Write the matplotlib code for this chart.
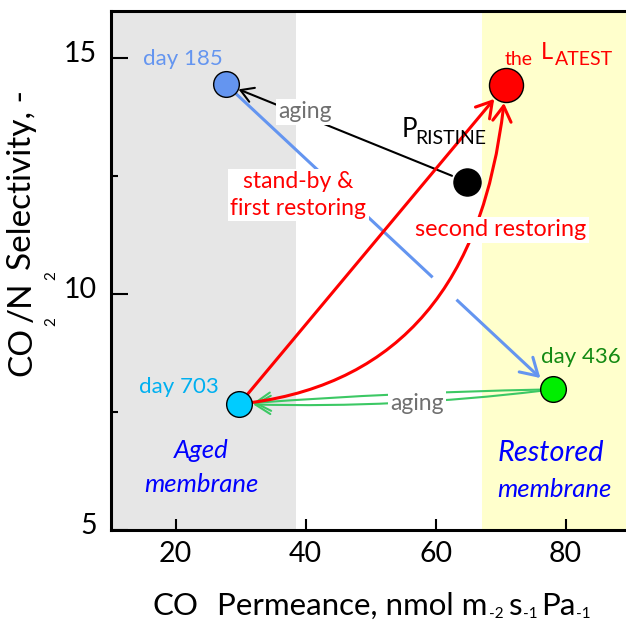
import numpy as np
import matplotlib
matplotlib.use('Agg')
import matplotlib.pyplot as plt
from matplotlib.patches import FancyArrowPatch
from matplotlib.transforms import ScaledTranslation, IdentityTransform

plt.rcParams['font.family'] = ['Lato', 'DejaVu Sans']

# ---------------- data ----------------
states = ['day 185', 'pristine', 'latest', 'day 436', 'day 703']
permeance = [27.7, 64.8, 70.8, 78.0, 29.8]
selectivity = [14.45, 12.38, 14.43, 7.98, 7.67]
marker_colors = ['#6495F0', '#000000', '#FF0000', '#00EE00', '#00CCFF']
aged_zone = [10, 38.5]
restored_zone = [67.1, 89.3]
xticks = [20, 40, 60, 80]
yticks = [5, 10, 15]
yminor = [7.5, 12.5]
# --------------------------------------

W, H = 626, 628
fig = plt.figure(figsize=(W / 100, H / 100), dpi=100)
ax = fig.add_axes([110.7 / W, (H - 530) / H, (W - 110.7) / W, (530 - 11) / H])
ax.set_xlim(10, 89.3)
ax.set_ylim(5, 16)

ax.axvspan(*aged_zone, color='#E6E6E6', zorder=0, lw=0)
ax.axvspan(*restored_zone, color='#FFFFCC', zorder=0, lw=0)

for s in ['left', 'top', 'bottom']:
    ax.spines[s].set_linewidth(2.2)
ax.spines['right'].set_visible(False)

ax.set_xticks(xticks)
ax.set_yticks(yticks)
ax.set_yticks(yminor, minor=True)
ax.tick_params(axis='x', which='major', direction='in', length=8, width=1.5,
               labelsize=20.5, pad=8, top=False)
ax.tick_params(axis='y', which='major', direction='in', length=12, width=1.5,
               labelsize=20.5, pad=10, right=False)
ax.tick_params(axis='y', which='minor', direction='in', length=5, width=1.5, right=False)

# markers
sizes = [18.5, 19.5, 24.5, 18.5, 18.5]
for x, y, c, ms in zip(permeance, selectivity, marker_colors, sizes):
    ax.plot(x, y, 'o', ms=ms, mfc=c, mec='black', mew=1, zorder=5)


def arrow(i, j, color, lw, ms, sA, sB, conn='arc3,rad=0', z=2,
          style='->,head_length=0.5,head_width=0.3'):
    p = FancyArrowPatch((permeance[i], selectivity[i]), (permeance[j], selectivity[j]),
                        arrowstyle=style, mutation_scale=ms, color=color, lw=lw,
                        shrinkA=sA, shrinkB=sB, connectionstyle=conn, zorder=z)
    ax.add_patch(p)
    return p


# pristine -> day 185 (aging)
arrow(1, 0, 'black', 1.5, 18, 11.5, 10)
# day 185 -> day 436
arrow(0, 3, '#6495F0', 2.2, 24, 9, 12)
# white gap in blue line where the red curve crosses
t = np.array([0.633, 0.706])
gx = permeance[0] + t * (permeance[3] - permeance[0])
gy = selectivity[0] + t * (selectivity[3] - selectivity[0])
ax.plot(gx, gy, color='white', lw=4, solid_capstyle='butt', zorder=2.5)
# day 436 -> day 703 (aging), two strands
arrow(3, 4, '#3CC864', 1.5, 22, 9, 10, conn='arc3,rad=0.015')
arrow(3, 4, '#3CC864', 1.5, 22, 9, 10, conn='arc3,rad=-0.04')
# day 703 -> latest (stand-by & first restoring)
arrow(4, 2, '#FF0000', 2.2, 22, 9, 13, z=2.7)
# day 703 -> latest (second restoring), curved
arrow(4, 2, '#FF0000', 2.2, 22, 9, 13, conn='angle3,angleA=6,angleB=85', z=2.6)

box = dict(fc='white', ec='none', pad=1.5)
ax.text(14.9, 14.85, 'day 185', color='#6495F0', fontsize=16, ha='left', va='baseline', zorder=6)
ax.text(14.3, 7.90, 'day 703', color='#00B0F0', fontsize=16, ha='left', va='baseline', zorder=6)
ax.text(76.15, 8.54, 'day 436', color='#138A13', fontsize=16, ha='left', va='baseline', zorder=6)

ax.text(70.6, 14.85, 'the', color='#FF0000', fontsize=14, ha='left', va='baseline', zorder=6)
tL = ax.text(76.2, 14.99, 'L', color='#FF0000', fontsize=17, ha='left', va='baseline', zorder=6)

ax.text(54.77, 13.33, 'P', color='black', fontsize=18.5, ha='left', va='baseline', zorder=6)
ax.text(56.92, 13.18, 'RISTINE', color='black', fontsize=14, ha='left', va='baseline', zorder=6)

ax.text(39.85, 13.86, 'aging', color='#707070', fontsize=16.5, ha='center', va='center',
        bbox=box, zorder=3)
ax.text(38.9, 12.10, 'stand-by &\nfirst restoring', color='#FF0000', fontsize=16.5,
        ha='center', va='center', linespacing=1.4, bbox=box, zorder=3)
ax.text(70.08, 11.36, 'second restoring', color='#FF0000', fontsize=16.8,
        ha='center', va='center', bbox=box, zorder=3)
ax.text(57.15, 7.69, 'aging', color='#707070', fontsize=16.5, ha='center', va='center',
        bbox=box, zorder=3)

ax.text(24.0, 6.69, 'Aged', color='#0000FF', fontsize=18.5, style='italic',
        ha='center', va='center', zorder=6)
ax.text(24.0, 5.97, 'membrane', color='#0000FF', fontsize=18.5, style='italic',
        ha='center', va='center', zorder=6)
ax.text(69.54, 6.63, 'Restored', color='#0000FF', fontsize=20.8, style='italic',
        ha='left', va='center', zorder=6)
ax.text(69.54, 5.85, 'membrane', color='#0000FF', fontsize=18.5, style='italic',
        ha='left', va='center', zorder=6)

fig.canvas.draw()
r = fig.canvas.get_renderer()

# "ATEST" placed right after the big "L"
xL = tL.get_window_extent(r).x1 + 1.5
xa = ax.transData.inverted().transform((xL, 0))[0]
ax.text(xa, 14.85, 'ATEST', color='#FF0000', fontsize=14, ha='left', va='baseline', zorder=6)

# y tick labels slightly raised
for lbl in ax.get_yticklabels():
    lbl.set_transform(lbl.get_transform() + ScaledTranslation(0, 7 / 100, fig.dpi_scale_trans))

ID = IdentityTransform()

# y label, built piecewise (rotated)
main_y, sub_y = 24, 11
x_main, x_sub = 31, 55
y = H - 376
t = fig.text(x_main, y, 'CO', rotation=90, rotation_mode='anchor', ha='left', va='baseline',
             fontsize=main_y, transform=ID)
end = t.get_window_extent(r).y1
fig.text(x_sub, end + 1, '2', rotation=90, rotation_mode='anchor', ha='left', va='baseline',
         fontsize=sub_y, transform=ID)
t = fig.text(x_main, end + 5, '/N', rotation=90, rotation_mode='anchor', ha='left', va='baseline',
             fontsize=main_y, transform=ID)
end = t.get_window_extent(r).y1
fig.text(x_sub, end + 1, '2', rotation=90, rotation_mode='anchor', ha='left', va='baseline',
         fontsize=sub_y, transform=ID)
fig.text(x_main, end + 11, 'Selectivity, -', rotation=90, rotation_mode='anchor', ha='left',
         va='baseline', fontsize=main_y, transform=ID)

# x label, built piecewise
main_x, sub_x = 22.5, 11
base, sub_base = H - 615, H - 618
pieces = [('CO', main_x, base, 18), ('Permeance, nmol m', main_x, base, 2),
          ('-2', sub_x, sub_base, 5), ('s', main_x, base, 0), ('-1', sub_x, sub_base, 4),
          ('Pa', main_x, base, 0), ('-1', sub_x, sub_base, 0)]
x = 153
for s, fs, yb, gap in pieces:
    t = fig.text(x, yb, s, ha='left', va='baseline', fontsize=fs, transform=ID)
    x = t.get_window_extent(r).x1 + gap

fig.savefig('out.png', dpi=100)
